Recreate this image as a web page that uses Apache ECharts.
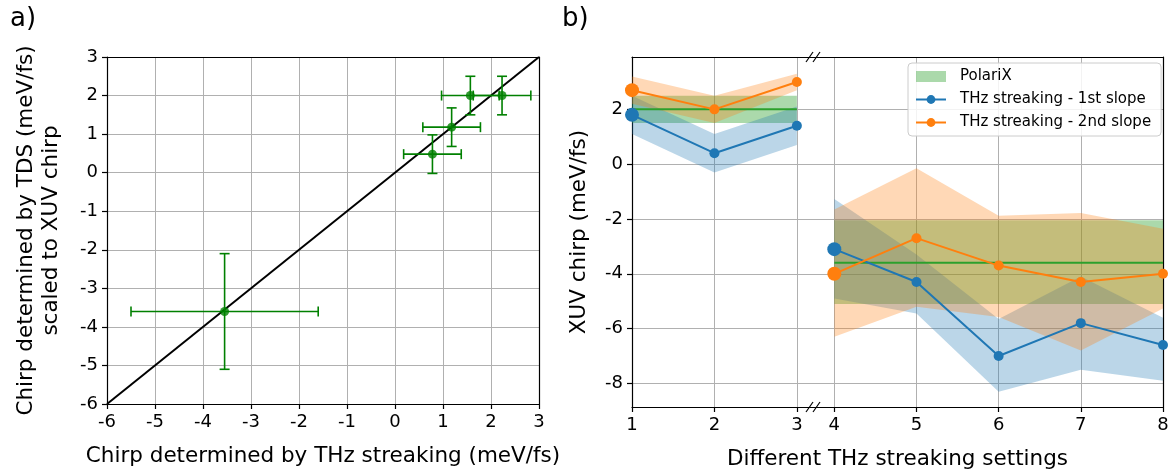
<!DOCTYPE html>
<html><head><meta charset="utf-8">
<script src="https://cdn.jsdelivr.net/npm/echarts@6/dist/echarts.min.js"></script>
<style>html,body{margin:0;padding:0;background:#fff}#c{width:1173px;height:472px}</style>
</head><body><div id="c"></div>
<script>
// ---------- Panel a) data ----------
const thzChirp = [-3.55, 0.78, 1.18, 1.57, 2.23];
const tdsChirp = [-3.6, 0.48, 1.18, 2.0, 2.0];
const thzErr = [1.95, 0.6, 0.6, 0.6, 0.6];
const tdsErr = [1.5, 0.5, 0.5, 0.5, 0.5];
const diagonal = [-6, 3];
const ticksA = [-6, -5, -4, -3, -2, -1, 0, 1, 2, 3];

// ---------- Panel b) data ----------
const settingsLeft = [1, 2, 3];
const settingsRight = [4, 5, 6, 7, 8];
const slope1Left = [1.8, 0.4, 1.4];
const slope1LeftLow = [1.1, -0.3, 0.7];
const slope1LeftHigh = [2.5, 1.1, 2.1];
const slope1Right = [-3.1, -4.3, -7.0, -5.8, -6.6];
const slope1RightLow = [-4.9, -5.45, -8.3, -7.5, -7.9];
const slope1RightHigh = [-1.27, -3.3, -5.65, -4.1, -5.6];
const slope2Left = [2.7, 2.0, 3.0];
const slope2LeftLow = [2.2, 1.5, 2.7];
const slope2LeftHigh = [3.2, 2.5, 3.3];
const slope2Right = [-4.0, -2.7, -3.7, -4.3, -4.0];
const slope2RightLow = [-6.3, -5.2, -5.58, -6.8, -5.27];
const slope2RightHigh = [-1.65, -0.15, -1.88, -1.78, -2.36];
const polarixSpanLeft = [1, 3];
const polarixSpanRight = [4, 8];
const polarixMean = [2.0, -3.6];   // left part, right part
const polarixLow = [1.5, -5.1];
const polarixHigh = [2.5, -2.05];
const ticksBY = [-8, -6, -4, -2, 0, 2];
const ticksBXLeft = [1, 2, 3];
const ticksBXRight = [4, 5, 6, 7, 8];

const FONT = 'DejaVu Sans';
const BLUE = '#1f77b4', ORANGE = '#ff7f0e', GREEN = '#2ca02c', DGREEN = '#008000';
const GRIDC = '#b0b0b0';

const chart = echarts.init(document.getElementById('c'), null, {renderer: 'canvas'});

const lbl = {fontFamily: FONT, fontSize: 18, color: '#000'};
function mainAxis(gridIndex, min, max, extra) {
  return Object.assign({
    gridIndex, type: 'value', min, max,
    axisLine: {show: true, onZero: false, lineStyle: {color: '#000', width: 1.2}},
    axisTick: {show: true, length: 5, inside: false, lineStyle: {color: '#000', width: 1.2}},
    axisLabel: Object.assign({margin: 9}, lbl),
    splitLine: {show: true, lineStyle: {color: GRIDC, width: 1}}
  }, extra || {});
}
function borderAxis(gridIndex, min, max, position) {
  return {
    gridIndex, type: 'value', min, max, position,
    axisLine: {show: true, onZero: false, lineStyle: {color: '#000', width: 1.2}},
    axisTick: {show: false}, axisLabel: {show: false}, splitLine: {show: false}
  };
}
const yMinB = -8.86, yMaxB = 3.91;
const xMaxLeftB = 3.22, xMinRightB = 3.765;

function band(name, xs, lo, hi, color, xi, yi) {
  return {
    type: 'custom', name, xAxisIndex: xi, yAxisIndex: yi, silent: true, z: 1,
    itemStyle: {color},
    data: xs.map((x, i) => [x, lo[i], hi[i]]),
    encode: {x: 0, y: [1, 2]},
    renderItem: (params, api) => {
      if (params.dataIndex !== 0) return null;
      const pts = [];
      xs.forEach((x, i) => pts.push(api.coord([x, hi[i]])));
      for (let i = xs.length - 1; i >= 0; i--) pts.push(api.coord([xs[i], lo[i]]));
      return {type: 'polygon', shape: {points: pts}, style: {fill: color}};
    }
  };
}
function line(name, xs, ys, color, xi, yi) {
  return {
    type: 'line', name, xAxisIndex: xi, yAxisIndex: yi, z: 3,
    data: xs.map((x, i) => [x, ys[i]]),
    symbol: 'circle',
    symbolSize: (v, p) => (p.dataIndex === 0 ? 14 : 10),
    itemStyle: {color},
    lineStyle: {color, width: 2},
    emphasis: {disabled: true}
  };
}

const option = {
  animation: false,
  backgroundColor: '#fff',
  textStyle: {fontFamily: FONT},
  grid: [
    {left: 107, right: 634, top: 57, bottom: 65},
    {left: 632, width: 183, top: 57, bottom: 65},
    {left: 815, right: 10, top: 57, bottom: 65}
  ],
  xAxis: [
    mainAxis(0, -6, 3, {interval: 1, position: 'bottom',
      name: 'Chirp determined by THz streaking (meV/fs)', nameLocation: 'middle', nameGap: 41,
      nameTextStyle: {fontFamily: FONT, fontSize: 21.5, color: '#000'}}),
    borderAxis(0, -6, 3, 'top'),
    mainAxis(1, 1, xMaxLeftB, {position: 'bottom',
      axisTick: {show: true, length: 5, customValues: ticksBXLeft, lineStyle: {color: '#000', width: 1.2}},
      axisLabel: Object.assign({margin: 9, customValues: ticksBXLeft}, lbl)}),
    borderAxis(1, 1, xMaxLeftB, 'top'),
    mainAxis(2, xMinRightB, 8, {position: 'bottom',
      axisTick: {show: true, length: 5, customValues: ticksBXRight, lineStyle: {color: '#000', width: 1.2}},
      axisLabel: Object.assign({margin: 9, customValues: ticksBXRight}, lbl)}),
    borderAxis(2, xMinRightB, 8, 'top')
  ],
  yAxis: [
    mainAxis(0, -6, 3, {interval: 1, position: 'left',
      name: 'Chirp determined by TDS (meV/fs)\nscaled to XUV chirp', nameLocation: 'middle', nameGap: 43,
      nameTextStyle: {fontFamily: FONT, fontSize: 21.5, color: '#000', lineHeight: 25, align: 'center'}}),
    borderAxis(0, -6, 3, 'right'),
    mainAxis(1, yMinB, yMaxB, {position: 'left',
      axisTick: {show: true, length: 5, customValues: ticksBY, lineStyle: {color: '#000', width: 1.2}},
      axisLabel: Object.assign({margin: 9, customValues: ticksBY}, lbl),
      name: 'XUV chirp (meV/fs)', nameLocation: 'middle', nameGap: 42,
      nameTextStyle: {fontFamily: FONT, fontSize: 21.5, color: '#000'}}),
    {gridIndex: 2, type: 'value', min: yMinB, max: yMaxB, position: 'left',
      axisLine: {show: false, onZero: false},
      axisTick: {show: false, customValues: ticksBY},
      axisLabel: {show: false, customValues: ticksBY},
      splitLine: {show: true, lineStyle: {color: GRIDC, width: 1}}},
    borderAxis(2, yMinB, yMaxB, 'right')
  ],
  legend: {
    left: 908, top: 63, orient: 'vertical', selectedMode: false,
    data: [
      {name: 'PolariX', icon: 'rect', itemStyle: {color: 'rgba(44,160,44,0.4)'}},
      'THz streaking - 1st slope', 'THz streaking - 2nd slope'
    ],
    itemWidth: 30, itemHeight: 11, itemGap: 8,
    padding: [6, 10, 6, 7],
    backgroundColor: 'rgba(255,255,255,0.85)', borderColor: '#cccccc', borderWidth: 1, borderRadius: 4,
    textStyle: {fontFamily: FONT, fontSize: 15, color: '#000', padding: [0, 0, 0, 9]}
  },
  graphic: [
    {type: 'text', left: 10, top: 6, style: {text: 'a)', font: '26px "DejaVu Sans"', fill: '#000'}},
    {type: 'text', left: 562, top: 6, style: {text: 'b)', font: '26px "DejaVu Sans"', fill: '#000'}},
    {type: 'text', x: 897.5, y: 448, style: {text: 'Different THz streaking settings', font: '21.5px "DejaVu Sans"', fill: '#000', textAlign: 'center', textVerticalAlign: 'top'}},
    {type: 'line', shape: {x1: 806, y1: 62, x2: 813, y2: 52}, style: {stroke: '#000', lineWidth: 1.2}, z: 100},
    {type: 'line', shape: {x1: 813, y1: 62, x2: 820, y2: 52}, style: {stroke: '#000', lineWidth: 1.2}, z: 100},
    {type: 'line', shape: {x1: 806, y1: 412, x2: 813, y2: 402}, style: {stroke: '#000', lineWidth: 1.2}, z: 100},
    {type: 'line', shape: {x1: 813, y1: 412, x2: 820, y2: 402}, style: {stroke: '#000', lineWidth: 1.2}, z: 100}
  ],
  series: [
    // panel a
    {type: 'line', name: 'diag', xAxisIndex: 0, yAxisIndex: 0, data: [[diagonal[0], diagonal[0]], [diagonal[1], diagonal[1]]],
      symbol: 'none', lineStyle: {color: '#000', width: 2}, z: 2, silent: true},
    {type: 'custom', name: 'errbars', xAxisIndex: 0, yAxisIndex: 0, z: 3, silent: true,
      data: thzChirp.map((x, i) => [x, tdsChirp[i]]),
      renderItem: (params, api) => {
        const i = params.dataIndex;
        const x = thzChirp[i], y = tdsChirp[i], ex = thzErr[i], ey = tdsErr[i];
        const L = api.coord([x - ex, y]), R = api.coord([x + ex, y]);
        const T = api.coord([x, y + ey]), B = api.coord([x, y - ey]);
        const c = 5, st = {stroke: DGREEN, lineWidth: 1.6};
        return {type: 'group', children: [
          {type: 'line', shape: {x1: L[0], y1: L[1], x2: R[0], y2: R[1]}, style: st},
          {type: 'line', shape: {x1: L[0], y1: L[1] - c, x2: L[0], y2: L[1] + c}, style: st},
          {type: 'line', shape: {x1: R[0], y1: R[1] - c, x2: R[0], y2: R[1] + c}, style: st},
          {type: 'line', shape: {x1: T[0], y1: T[1], x2: B[0], y2: B[1]}, style: st},
          {type: 'line', shape: {x1: T[0] - c, y1: T[1], x2: T[0] + c, y2: T[1]}, style: st},
          {type: 'line', shape: {x1: B[0] - c, y1: B[1], x2: B[0] + c, y2: B[1]}, style: st}
        ]};
      }},
    {type: 'scatter', name: 'pts', xAxisIndex: 0, yAxisIndex: 0, z: 4, symbolSize: 9,
      itemStyle: {color: DGREEN}, data: thzChirp.map((x, i) => [x, tdsChirp[i]]), silent: true},
    // panel b bands
    band('PolariX', polarixSpanLeft, [polarixLow[0], polarixLow[0]], [polarixHigh[0], polarixHigh[0]], 'rgba(44,160,44,0.4)', 2, 2),
    band('PolariX', polarixSpanRight, [polarixLow[1], polarixLow[1]], [polarixHigh[1], polarixHigh[1]], 'rgba(44,160,44,0.4)', 4, 3),
    band('band1', settingsLeft, slope1LeftLow, slope1LeftHigh, 'rgba(31,119,180,0.3)', 2, 2),
    band('band1', settingsRight, slope1RightLow, slope1RightHigh, 'rgba(31,119,180,0.3)', 4, 3),
    band('band2', settingsLeft, slope2LeftLow, slope2LeftHigh, 'rgba(255,127,14,0.3)', 2, 2),
    band('band2', settingsRight, slope2RightLow, slope2RightHigh, 'rgba(255,127,14,0.3)', 4, 3),
    // lines
    {type: 'line', name: 'PolariX mean', xAxisIndex: 2, yAxisIndex: 2, z: 2, symbol: 'none', silent: true,
      data: polarixSpanLeft.map(x => [x, polarixMean[0]]), lineStyle: {color: GREEN, width: 2}},
    {type: 'line', name: 'PolariX mean', xAxisIndex: 4, yAxisIndex: 3, z: 2, symbol: 'none', silent: true,
      data: polarixSpanRight.map(x => [x, polarixMean[1]]), lineStyle: {color: GREEN, width: 2}},
    line('THz streaking - 1st slope', settingsLeft, slope1Left, BLUE, 2, 2),
    line('THz streaking - 1st slope', settingsRight, slope1Right, BLUE, 4, 3),
    line('THz streaking - 2nd slope', settingsLeft, slope2Left, ORANGE, 2, 2),
    line('THz streaking - 2nd slope', settingsRight, slope2Right, ORANGE, 4, 3)
  ]
};
chart.setOption(option);
</script>
</body></html>
